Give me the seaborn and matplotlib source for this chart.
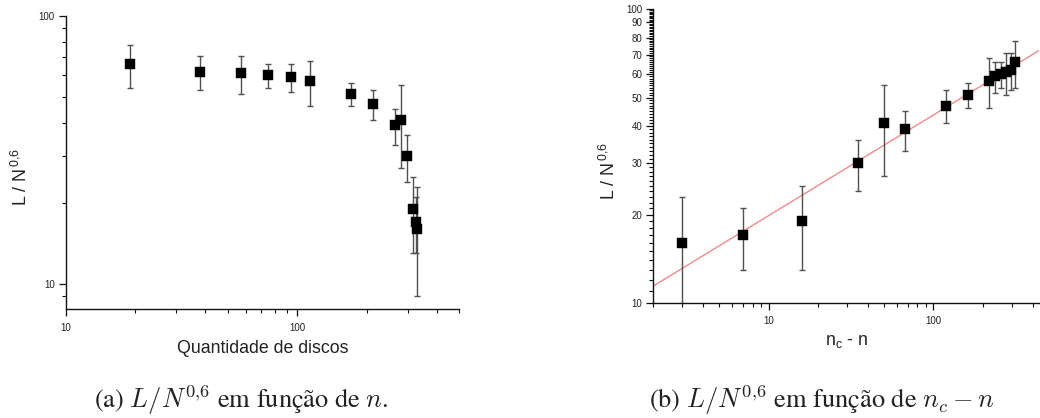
import numpy as np
import pandas as pd
import matplotlib
matplotlib.use("Agg")
import matplotlib.pyplot as plt
from matplotlib.ticker import FixedLocator, NullFormatter, LogLocator, FixedFormatter
import seaborn as sns

# Number of discs n, normalized length L/N^0.6 and its uncertainty
n_discs = [19, 38, 57, 75, 94, 113, 170, 213, 265, 282, 297, 316, 325, 329]
length_ratio = [66, 62, 61, 60, 59, 57, 51, 47, 39, 41, 30, 19, 17, 16]
length_err = [12, 9, 10, 6, 7, 11, 5, 6, 6, 14, 6, 6, 4, 7]

# Critical number of discs
n_critical = 332

# Power-law fit  L/N^0.6 = A * (n_c - n)^b
fit_amplitude = 9.03
fit_exponent = 0.342

left_yticks = [10, 100]
right_yticks = [10, 20, 30, 40, 50, 60, 70, 80, 90, 100]

df = pd.DataFrame({"n": n_discs, "ratio": length_ratio, "err": length_err})
df["dist"] = n_critical - df["n"]

sns.set_theme(style="ticks")
plt.rcParams["font.family"] = ["Liberation Sans", "DejaVu Sans"]
plt.rcParams["mathtext.fontset"] = "custom"
plt.rcParams["mathtext.rm"] = "Liberation Sans"
plt.rcParams["mathtext.it"] = "Liberation Sans:italic"
plt.rcParams["mathtext.bf"] = "Liberation Sans:bold"

fig = plt.figure(figsize=(10.4, 4.18), dpi=100)
ax_a = fig.add_axes([0.0632, 0.2608, 0.3782, 0.701])
ax_b = fig.add_axes([0.6282, 0.2744, 0.3712, 0.704])

ink = "#111111"
bar_color = "#505050"


def style_axis(ax):
    for side in ("top", "right"):
        ax.spines[side].set_visible(False)
    for side in ("left", "bottom"):
        ax.spines[side].set_color(ink)
        ax.spines[side].set_linewidth(1.0)
    ax.tick_params(which="major", direction="out", length=5, width=0.9,
                   colors=ink, labelsize=7, labelcolor="#222222")
    ax.tick_params(which="minor", direction="out", length=3, width=0.8,
                   colors=ink)


def draw_points(ax, xcol):
    ax.errorbar(df[xcol], df["ratio"], yerr=df["err"], fmt="none",
                ecolor=bar_color, elinewidth=1.0, capsize=2.2,
                capthick=1.0, zorder=2)
    sns.scatterplot(data=df, x=xcol, y="ratio", ax=ax, marker="s", s=44,
                    color="black", edgecolor="black", linewidth=0.3,
                    zorder=3, legend=False)


# ---- (a) L/N^0.6 versus n ----
style_axis(ax_a)
draw_points(ax_a, "n")
ax_a.set_xscale("log")
ax_a.set_yscale("log")
ax_a.set_xlim(10, 500)
ax_a.set_ylim(8.05, 100)
ax_a.xaxis.set_major_locator(FixedLocator([10, 100]))
ax_a.xaxis.set_major_formatter(FixedFormatter(["10", "100"]))
ax_a.xaxis.set_minor_locator(LogLocator(base=10, subs=np.arange(2, 10)))
ax_a.xaxis.set_minor_formatter(NullFormatter())
ax_a.yaxis.set_major_locator(FixedLocator(left_yticks))
ax_a.yaxis.set_major_formatter(FixedFormatter([str(v) for v in left_yticks]))
ax_a.yaxis.set_minor_locator(LogLocator(base=10, subs=np.arange(2, 10)))
ax_a.yaxis.set_minor_formatter(NullFormatter())
ax_a.tick_params(axis="x", which="major", pad=5)
ax_a.tick_params(axis="y", which="major", pad=3)
ax_a.set_xlabel("Quantidade de discos", fontsize=12.8, color="#222222")
ax_a.set_ylabel(r"L / N$^{\,0{,}6}$", fontsize=12.8, color="#222222")
ax_a.xaxis.set_label_coords(0.5, -0.105)
ax_a.yaxis.set_label_coords(-0.088, 0.45)

# ---- (b) L/N^0.6 versus n_c - n, with power-law fit ----
style_axis(ax_b)
x_lo, x_hi = 2, 440
fit_x = [x_lo, x_hi]
fit_y = [fit_amplitude * v ** fit_exponent for v in fit_x]
sns.lineplot(x=fit_x, y=fit_y, ax=ax_b, color="#f08a8a", linewidth=1.0,
             zorder=1)
draw_points(ax_b, "dist")
ax_b.set_xscale("log")
ax_b.set_yscale("log")
ax_b.set_xlim(x_lo, x_hi)
ax_b.set_ylim(10, 100)
ax_b.xaxis.set_major_locator(FixedLocator([10, 100]))
ax_b.xaxis.set_major_formatter(FixedFormatter(["10", "100"]))
ax_b.xaxis.set_minor_locator(LogLocator(base=10, subs=np.arange(2, 10)))
ax_b.xaxis.set_minor_formatter(NullFormatter())
ax_b.yaxis.set_major_locator(FixedLocator(right_yticks))
ax_b.yaxis.set_major_formatter(FixedFormatter([str(v) for v in right_yticks]))
ax_b.yaxis.set_minor_locator(
    FixedLocator([v for v in range(11, 100) if v % 10 != 0]))
ax_b.yaxis.set_minor_formatter(NullFormatter())
ax_b.tick_params(axis="x", which="major", pad=4)
ax_b.tick_params(axis="y", which="major", pad=3)
ax_b.set_xlabel(r"n$_\mathregular{c}$ - n", fontsize=12.8, color="#222222")
ax_b.set_ylabel(r"L / N$^{\,0{,}6}$", fontsize=12.8, color="#222222")
ax_b.xaxis.set_label_coords(0.5, -0.10)
ax_b.yaxis.set_label_coords(-0.088, 0.45)

# ---- sub-figure captions ----
cap_font = dict(family=["STIXGeneral", "DejaVu Serif"], math_fontfamily="cm",
                fontsize=19, color="#222222", ha="center", va="center")
fig.text(241 / 1040, 1 - 400 / 418,
         r"(a) $L/N^{0{,}6}$ em função de $n$.", **cap_font)
fig.text(822 / 1040, 1 - 400 / 418,
         r"(b) $L/N^{0{,}6}$ em função de $n_c - n$", **cap_font)

fig.savefig("out.png", dpi=100)
